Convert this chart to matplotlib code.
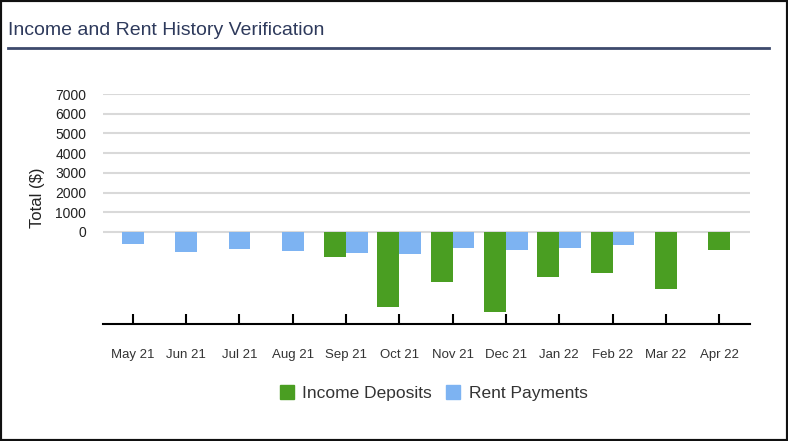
import matplotlib
matplotlib.use('Agg')
import matplotlib.pyplot as plt
from matplotlib.patches import Rectangle
from matplotlib.lines import Line2D
import numpy as np

months = ['May 21', 'Jun 21', 'Jul 21', 'Aug 21', 'Sep 21', 'Oct 21',
          'Nov 21', 'Dec 21', 'Jan 22', 'Feb 22', 'Mar 22', 'Apr 22']
income = [0, 0, 0, 0, -1290, -3810, -2560, -4080, -2270, -2080, -2910, -915]
rent = [-590, -1030, -850, -980, -1070, -1140, -800, -930, -800, -640, 0, 0]

green = '#4a9e22'
blue = '#7db3f2'
width = 0.41

plt.rcParams['font.family'] = ['Liberation Sans', 'DejaVu Sans']

fig = plt.figure(figsize=(7.88, 4.41), dpi=100)
ax = fig.add_axes([0.1307, 0.2653, 0.8211, 0.5215])

x = np.arange(len(months))
# bars of a month sit side by side only when both series have a value
for i in range(len(months)):
    both = income[i] != 0 and rent[i] != 0
    off = width / 2 if both else 0
    if income[i] != 0:
        ax.bar(x[i] - off, income[i], width, color=green, zorder=3)
    if rent[i] != 0:
        ax.bar(x[i] + off, rent[i], width, color=blue, zorder=3)

ax.set_xlim(-0.56, 11.58)
ax.set_ylim(-4670, 7000)
ax.set_yticks(range(0, 7001, 1000))
ax.set_yticklabels([str(v) for v in range(0, 7001, 1000)])
for v in range(0, 7001, 1000):
    ax.axhline(v, color='#d9d9d9', lw=1.5, zorder=1)

ax.set_xticks(x)
ax.set_xticklabels(months)
ax.tick_params(axis='x', direction='in', length=7, width=1.5, color='black',
               pad=18, labelsize=9.5, labelcolor='#333333')
ax.tick_params(axis='y', length=0, pad=12, labelsize=10, labelcolor='#222222')
for s in ['left', 'right', 'top']:
    ax.spines[s].set_visible(False)
ax.spines['bottom'].set_linewidth(1.5)
ax.spines['bottom'].set_color('black')

ax.set_ylabel('Total ($)', fontsize=12, color='#222222')
ax.yaxis.set_label_coords(-0.09, 0.55)

handles = [Line2D([0], [0], marker='s', ls='', markersize=10.5, color=green),
           Line2D([0], [0], marker='s', ls='', markersize=10.5, color=blue)]
fig.legend(handles, ['Income Deposits', 'Rent Payments'], loc='center',
           bbox_to_anchor=(0.548, 0.108), ncol=2, frameon=False,
           fontsize=12.5, handletextpad=0.3, columnspacing=0.6,
           handlelength=1.2, labelcolor='#333333')

fig.text(0.01, 0.93, 'Income and Rent History Verification', fontsize=14,
         color='#2e3a5c', va='center', ha='left')
fig.add_artist(Line2D([0.01, 0.976], [0.891, 0.891], transform=fig.transFigure,
                      color='#3d4a6d', lw=2))
fig.add_artist(Rectangle((0, 0), 1, 1, transform=fig.transFigure, fill=False,
                         edgecolor='#111111', lw=3))

fig.savefig('out.png', dpi=100)
